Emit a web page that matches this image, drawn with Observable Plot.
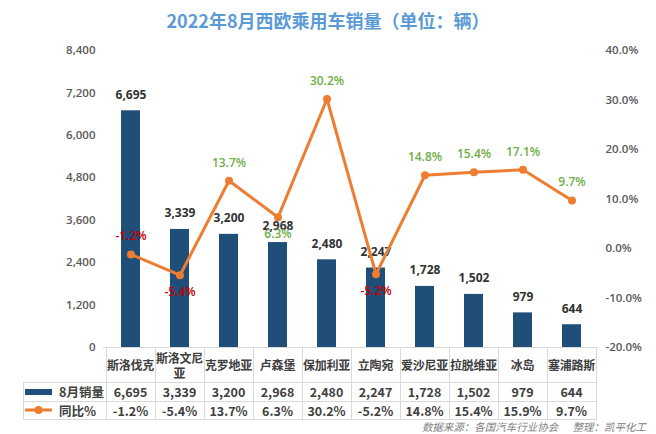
<!DOCTYPE html>
<html>
<head>
<meta charset="utf-8">
<script src="https://cdn.jsdelivr.net/npm/d3@7"></script>
<script src="https://cdn.jsdelivr.net/npm/@observablehq/plot@0.6"></script>
<style>
  body { margin: 0; background: #fff; font-family: "Open Sans", "Noto Sans CJK SC", sans-serif; }
  #page { position: relative; width: 656px; height: 434px; overflow: hidden; }
  #title { position: absolute; top: 7px; left: 0; width: 656px; text-align: center;
    font-family: "Noto Sans CJK SC", sans-serif; font-size: 18px; font-weight: bold; color: #5B9BD5; }
  #chart { position: absolute; top: 40px; left: 0; }
  .hl, .vl { position: absolute; background: #D9D9D9; }
  .cell { position: absolute; display: flex; align-items: center; justify-content: center; text-align: center;
    font-family: "Noto Sans CJK SC", sans-serif; color: #404040; font-weight: bold; }
  #source { position: absolute; right: 10px; top: 419px; font-family: "Noto Sans CJK SC", sans-serif;
    font-size: 10.5px; font-style: italic; color: #808080; white-space: pre; }
</style>
</head>
<body>
<div id="page">
  <div id="title">2022年8月西欧乘用车销量（单位：辆）</div>
  <div id="chart"></div>
  <div id="source">数据来源：各国汽车行业协会      整理：凯平化工</div>
</div>
<script>
const categories = ["斯洛伐克", "斯洛文尼亚", "克罗地亚", "卢森堡", "保加利亚", "立陶宛", "爱沙尼亚", "拉脱维亚", "冰岛", "塞浦路斯"];
const sales = [6695, 3339, 3200, 2968, 2480, 2247, 1728, 1502, 979, 644];
const yoy = [-1.2, -5.4, 13.7, 6.3, 30.2, -5.2, 14.8, 15.4, 15.9, 9.7];
const yoyLabels = ["-1.2%", "-5.4%", "13.7%", "6.3%", "30.2%", "-5.2%", "14.8%", "15.4%", "17.1%", "9.7%"];
const leftTicks = [0, 1200, 2400, 3600, 4800, 6000, 7200, 8400];
const rightTicks = [-20, -10, 0, 10, 20, 30, 40];
const seriesNames = ["8月销量", "同比%"];

const data = categories.map((c, i) => ({cat: c, sales: sales[i], pct: yoy[i], label: yoyLabels[i], i}));

// map percent axis [-20, 40] onto sales axis [0, 8400]
const toY = p => (p + 20) / 60 * 8400;
const fromY = v => v / 8400 * 60 - 20;

const labelBelow = new Set([1, 3, 5]);
const above = data.filter(d => !labelBelow.has(d.i));
const below = data.filter(d => labelBelow.has(d.i));

const navy = "#1F4E79", orange = "#ED7D31", green = "#70AD47", red = "#C00000";

const chart = Plot.plot({
  width: 656,
  height: 317,
  marginTop: 10,
  marginBottom: 10,
  marginLeft: 103,
  marginRight: 58,
  style: {fontFamily: "'Open Sans', 'Noto Sans CJK SC', sans-serif", color: "#595959", background: "transparent"},
  x: {type: "band", domain: categories, padding: 0, axis: null},
  y: {domain: [0, 8400], axis: null},
  marks: [
    Plot.axisY({ticks: leftTicks, tickSize: 0, tickPadding: 8, tickFormat: d3.format(","), label: null, fontSize: 11.5, fontWeight: 600, fill: "#595959"}),
    Plot.axisY(rightTicks.map(toY), {anchor: "right", tickSize: 0, tickPadding: 7, tickFormat: v => fromY(v).toFixed(1) + "%", label: null, fontSize: 11.5, fontWeight: 600, fill: "#595959"}),
    Plot.ruleY([0], {stroke: "#D9D9D9"}),
    Plot.barY(data, {x: "cat", y: "sales", fill: navy, insetLeft: 15, insetRight: 15}),
    Plot.text(data, {x: "cat", y: "sales", text: d => d3.format(",")(d.sales), dy: -16, fontSize: 12, fontWeight: "bold", fill: "#333"}),
    Plot.line(data, {x: "cat", y: d => toY(d.pct), stroke: orange, strokeWidth: 3}),
    Plot.dot(data, {x: "cat", y: d => toY(d.pct), r: 4, fill: orange}),
    Plot.text(above, {x: "cat", y: d => toY(d.pct), text: "label", dy: -18, fontSize: 12, fontWeight: 600, fill: d => d.pct < 0 ? red : green}),
    Plot.text(below, {x: "cat", y: d => toY(d.pct), text: "label", dy: 17, fontSize: 12, fontWeight: 600, fill: d => d.pct < 0 ? red : green})
  ]
});
document.getElementById("chart").appendChild(chart);

// data table under the chart, aligned with the band scale
const page = document.getElementById("page");
const xs = chart.scale("x");
const bw = xs.bandwidth;
const top0 = 40 + 307; // plot bottom in page coordinates
const rowTops = [top0, top0 + 35, top0 + 54, top0 + 72];
const legLeft = 23;
const x0 = xs.apply(categories[0]);
const xEnd = xs.apply(categories[categories.length - 1]) + bw;

function line(cls, l, t, w, h) {
  const d = document.createElement("div");
  d.className = cls;
  Object.assign(d.style, {left: l + "px", top: t + "px", width: w + "px", height: h + "px"});
  page.appendChild(d);
}
function cell(html, l, t, w, h, size, extra) {
  const d = document.createElement("div");
  d.className = "cell";
  Object.assign(d.style, {left: l + "px", top: t + "px", width: w + "px", height: h + "px", fontSize: size + "px", lineHeight: "15px"}, extra || {});
  d.innerHTML = html;
  page.appendChild(d);
}
// horizontal lines
line("hl", legLeft, rowTops[1], xEnd - legLeft, 1);
line("hl", legLeft, rowTops[2], xEnd - legLeft, 1);
line("hl", legLeft, rowTops[3], xEnd - legLeft, 1);
// vertical lines
categories.forEach(c => line("vl", xs.apply(c), rowTops[0], 1, rowTops[3] - rowTops[0] + 1));
line("vl", xEnd, rowTops[0], 1, rowTops[3] - rowTops[0] + 1);
line("vl", legLeft, rowTops[1], 1, rowTops[3] - rowTops[1] + 1);

categories.forEach((c, i) => {
  const l = xs.apply(c);
  cell(c, l - 1, rowTops[0], bw + 2, rowTops[1] - rowTops[0], 12, {letterSpacing: "-0.2px"});
  cell(d3.format(",")(sales[i]), l, rowTops[1], bw, rowTops[2] - rowTops[1], 12.5);
  cell(yoy[i].toFixed(1) + "%", l, rowTops[2], bw, rowTops[3] - rowTops[2], 12.5);
});
// legend column
const sw1 = `<svg width="28" height="8" style="margin-right:6px"><rect x="0" y="1" width="27" height="6" fill="${navy}"/></svg>`;
const sw2 = `<svg width="28" height="10" style="margin-right:6px"><line x1="0" x2="27" y1="5" y2="5" stroke="${orange}" stroke-width="3"/><circle cx="13.5" cy="5" r="4" fill="${orange}"/></svg>`;
cell(sw1 + seriesNames[0], legLeft + 2, rowTops[1], x0 - legLeft - 2, rowTops[2] - rowTops[1], 12.5, {justifyContent: "flex-start"});
cell(sw2 + seriesNames[1], legLeft + 2, rowTops[2], x0 - legLeft - 2, rowTops[3] - rowTops[2], 12.5, {justifyContent: "flex-start"});
</script>
</body>
</html>
